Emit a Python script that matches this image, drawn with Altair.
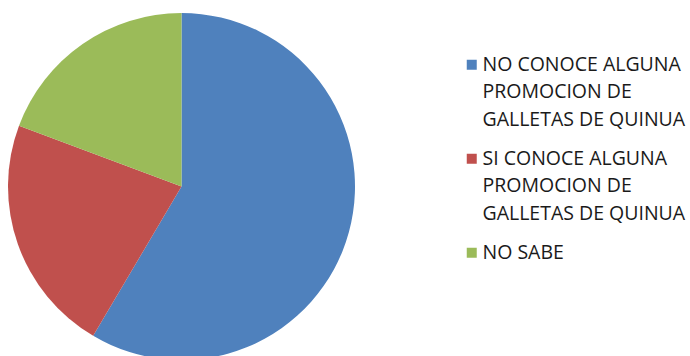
import altair as alt
import pandas as pd

categories = [
    "NO CONOCE ALGUNA|PROMOCION DE|GALLETAS DE QUINUA",
    "SI CONOCE ALGUNA|PROMOCION DE|GALLETAS DE QUINUA",
    "NO SABE",
]
values = [58.5, 22.2, 19.3]
colors = ["#4F81BD", "#C0504D", "#9BBB59"]

df = pd.DataFrame({"cat": categories, "val": values, "ord": [0, 1, 2]})

chart = alt.Chart(df).mark_arc(radius=173.5, stroke=None).encode(
    theta=alt.Theta("val:Q", stack=True),
    order=alt.Order("ord:Q"),
    x=alt.value(181.5),
    y=alt.value(186.5),
    color=alt.Color(
        "cat:N",
        sort=categories,
        scale=alt.Scale(domain=categories, range=colors),
        legend=alt.Legend(
            title=None,
            orient="none",
            legendX=462,
            legendY=55,
            symbolType="square",
            symbolSize=100,
            symbolStrokeWidth=0,
            labelExpr="split(datum.label, '|')",
            labelFont="Open Sans",
            labelFontSize=19.5,
            labelColor="#1a1a1a",
            labelLimit=400,
            rowPadding=18,
            labelOffset=1,
        ),
    ),
).properties(width=690, height=356, padding=0, autosize="none").configure(
    style={"guide-label": {"lineHeight": 27.5}}
).configure_view(stroke=None)

chart.save("out.html", embed_options={"renderer": "svg", "actions": False})
